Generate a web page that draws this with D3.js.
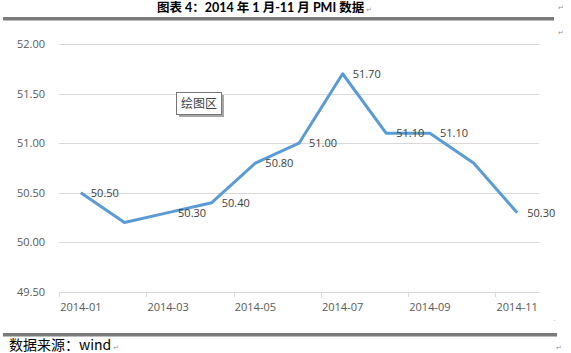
<!DOCTYPE html>
<html>
<head>
<meta charset="utf-8">
<script src="https://cdn.jsdelivr.net/npm/d3@7"></script>
<style>
  body { margin: 0; background: #fff; }
  svg { display: block; }
</style>
</head>
<body>
<div id="app"></div>
<script>
// data
var months = ['2014-01', '2014-02', '2014-03', '2014-04', '2014-05', '2014-06',
  '2014-07', '2014-08', '2014-09', '2014-10', '2014-11'];
var pmi = [50.5, 50.2, 50.3, 50.4, 50.8, 51.0, 51.7, 51.1, 51.1, 50.8, 50.3];
// which points carry a label (Feb and Oct have none in the original)
var showLabel = [true, false, true, true, true, true, true, true, true, false, true];
var yTicks = [49.5, 50.0, 50.5, 51.0, 51.5, 52.0];
var xTickLabels = ['2014-01', '2014-03', '2014-05', '2014-07', '2014-09', '2014-11'];

var W = 571, H = 353;
var margin = {top: 44, right: 32, bottom: 61, left: 59};
var width = W - margin.left - margin.right;
var height = H - margin.top - margin.bottom;

var svg = d3.select("#app")
  .append("svg")
    .attr("width", W)
    .attr("height", H);

function pmark(x, y) {
  svg.append("text")
    .attr("x", x)
    .attr("y", y)
    .style("font-family", "'DejaVu Sans', sans-serif")
    .style("font-size", "7px")
    .attr("fill", "#999")
    .text("↵");
}

// title + rules (document chrome)
var title = svg.append("text")
  .attr("x", 157)
  .attr("y", 12)
  .style("font-family", "Lato, 'Noto Sans CJK SC', sans-serif")
  .style("font-weight", "bold")
  .style("font-size", "12.5px")
  .attr("fill", "#000");
title.append("tspan").text("图表 4：2014 年 1 月-11 月 PMI 数据");
title.append("tspan")
  .attr("dx", 2)
  .style("font-family", "'DejaVu Sans', sans-serif")
  .style("font-weight", "normal")
  .style("font-size", "7px")
  .attr("fill", "#999")
  .text("↵");
pmark(558, 10);
pmark(558, 35);

svg.append("rect")
  .attr("x", 3).attr("y", 17)
  .attr("width", 551).attr("height", 3.5)
  .attr("fill", "#7a7a7a");

svg.append("rect")
  .attr("x", 3).attr("y", 333)
  .attr("width", 554).attr("height", 3.5)
  .attr("fill", "#7a7a7a");

var foot = svg.append("text")
  .attr("x", 9)
  .attr("y", 350)
  .style("font-family", "'Noto Sans CJK SC', sans-serif")
  .style("font-size", "14px")
  .attr("fill", "#000");
foot.append("tspan").text("数据来源：wind");
foot.append("tspan")
  .attr("dx", 2)
  .style("font-family", "'DejaVu Sans', sans-serif")
  .style("font-size", "7px")
  .attr("fill", "#999")
  .text("↵");
pmark(556, 350);

svg.append("text")
  .attr("x", 553).attr("y", 323)
  .style("font-size", "8px")
  .attr("fill", "#aaa")
  .text("·");

var g = svg.append("g")
  .attr("transform", "translate(" + margin.left + "," + margin.top + ")");

// scales
var x = d3.scaleBand()
  .domain(months)
  .range([0, width]);

var y = d3.scaleLinear()
  .domain([49.5, 52.0])
  .range([height, 0]);

// gridlines
g.selectAll(".grid")
  .data(yTicks.filter(d => d > 49.5))
  .join("line")
    .attr("class", "grid")
    .attr("x1", 0)
    .attr("x2", width)
    .attr("y1", d => Math.round(y(d)) + 0.5)
    .attr("y2", d => Math.round(y(d)) + 0.5)
    .attr("stroke", "#d9d9d9")
    .attr("stroke-width", 1);

// y axis labels
var yAxis = g.append("g")
  .call(d3.axisLeft(y).tickValues(yTicks).tickFormat(d3.format(".2f")).tickSize(0).tickPadding(14));
yAxis.select(".domain").remove();
yAxis.selectAll("text")
  .style("font-family", "'Open Sans', 'DejaVu Sans', sans-serif")
  .style("font-size", "11px")
  .attr("fill", "#595959");

// x axis
var xAxis = g.append("g")
  .attr("transform", "translate(0," + height + ")")
  .call(d3.axisBottom(x).tickValues(xTickLabels).tickSize(0).tickPadding(11));
xAxis.select(".domain")
  .attr("stroke", "#d9d9d9")
  .attr("d", "M0.5,0.5H" + width);
xAxis.selectAll("text")
  .style("font-family", "'Open Sans', 'DejaVu Sans', sans-serif")
  .style("font-size", "11px")
  .attr("fill", "#595959");

// tick marks between category pairs
var tickPos = d3.range(0, months.length + 1, 2).map(i => i * x.step());
g.selectAll(".xtick")
  .data(tickPos)
  .join("line")
    .attr("class", "xtick")
    .attr("x1", d => Math.round(d) + 0.5)
    .attr("x2", d => Math.round(d) + 0.5)
    .attr("y1", height)
    .attr("y2", height + 5)
    .attr("stroke", "#d9d9d9");

// line
var line = d3.line()
  .x((d, i) => x(months[i]) + x.bandwidth() / 2)
  .y(d => y(d));

g.append("path")
  .datum(pmi)
  .attr("d", line)
  .attr("fill", "none")
  .attr("stroke", "#5b9bd5")
  .attr("stroke-width", 3)
  .attr("stroke-linejoin", "round");

// data labels
g.selectAll(".lbl")
  .data(pmi.map((v, i) => ({v: v, i: i})).filter(d => showLabel[d.i]))
  .join("text")
    .attr("class", "lbl")
    .attr("x", d => x(months[d.i]) + x.bandwidth() / 2 + 10)
    .attr("y", d => y(d.v) + 4)
    .style("font-family", "'Open Sans', 'DejaVu Sans', sans-serif")
    .style("font-size", "11px")
    .attr("fill", "#404040")
    .text(d => d3.format(".2f")(d.v));

// "plot area" tooltip
var tip = svg.append("g").attr("transform", "translate(176,92)");
tip.append("rect")
  .attr("x", 3).attr("y", 3)
  .attr("width", 45).attr("height", 22)
  .attr("fill", "#a6a6a6");
tip.append("rect")
  .attr("x", 0.5).attr("y", 0.5)
  .attr("width", 45).attr("height", 22)
  .attr("fill", "#fff")
  .attr("stroke", "#767676");
tip.append("text")
  .attr("x", 23).attr("y", 16)
  .attr("text-anchor", "middle")
  .style("font-family", "'Noto Sans CJK SC', sans-serif")
  .style("font-size", "12px")
  .attr("fill", "#404040")
  .text("绘图区");
</script>
</body>
</html>
